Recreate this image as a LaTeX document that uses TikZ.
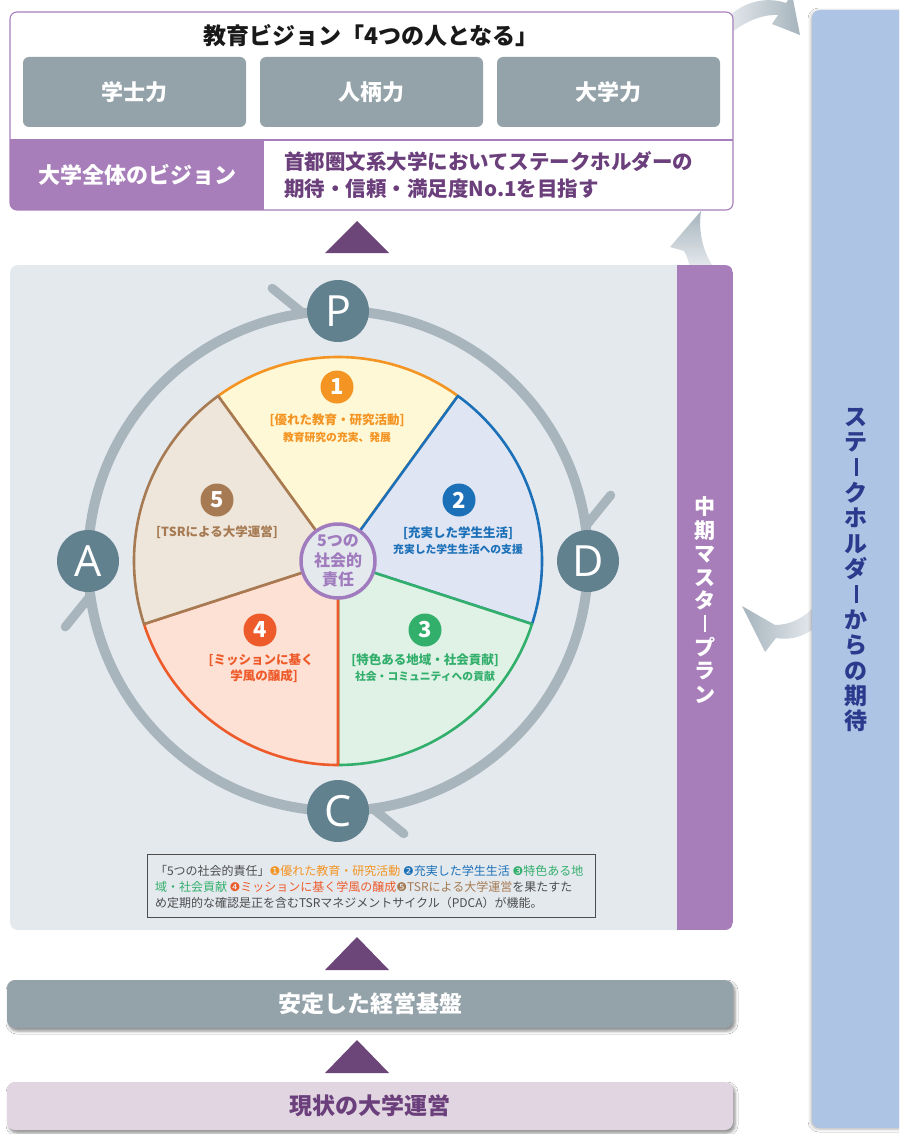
\documentclass[tikz,border=0pt]{standalone}
\usepackage{fontspec}
\usepackage{graphicx}
\setmainfont{Noto Sans CJK JP}
\newfontfamily\latf{Open Sans}
\newfontfamily\dvf{DejaVu Sans}
\usetikzlibrary{shadows.blur}
\newcommand\jfs[2]{\fontsize{#1}{#2}\selectfont}
\newcommand\myvbar{\rule[-0.02em]{0.13em}{0.82em}}
\definecolor{vpurple}{HTML}{A77EB9}
\definecolor{dpurple}{HTML}{6B3F7B}
\definecolor{tri}{HTML}{6C4679}
\definecolor{gbox}{HTML}{94A2A9}
\definecolor{panel}{HTML}{E4E9EE}
\definecolor{sblue}{HTML}{AEC4E4}
\definecolor{stext}{HTML}{2B3A8C}
\definecolor{ringc}{HTML}{A8B5BD}
\definecolor{pdcac}{HTML}{62818F}
\definecolor{c1}{HTML}{F39423}\definecolor{f1}{HTML}{FFF8D6}
\definecolor{c2}{HTML}{1B70B8}\definecolor{f2}{HTML}{DFE5F3}
\definecolor{c3}{HTML}{33AF6C}\definecolor{f3}{HTML}{E0F1E6}
\definecolor{c4}{HTML}{EE5B2B}\definecolor{f4}{HTML}{FDE1D5}
\definecolor{c5}{HTML}{A67B53}\definecolor{f5}{HTML}{EFE6DB}
\definecolor{ccent}{HTML}{A07CBE}
\definecolor{lgray}{HTML}{4D4D4D}
\definecolor{bartwo}{HTML}{E0D5E0}
\definecolor{arlight}{HTML}{E6EAEE}
\definecolor{ardark}{HTML}{A6B4BD}
\begin{document}
\begin{tikzpicture}[x=1pt,y=-1pt,
  every node/.style={inner sep=0pt, outer sep=0pt},
  graybox/.style={rectangle, rounded corners=6, fill=gbox, minimum width=223, minimum height=70, text=white, font=\bfseries\jfs{22}{26}},
  seg/.style={line width=2.6, line join=round},
  badge/.style={circle, minimum size=33, text=white, font=\bfseries\jfs{22}{24}},
  lbl/.style={font=\bfseries\jfs{12.5}{16}},
  sublbl/.style={font=\bfseries\jfs{10.8}{14}},
  pdcanode/.style={circle, fill=pdcac, minimum size=62, text=white, font=\latf\jfs{43}{46}},
  barb/.style={ringc, line width=9, line cap=round},
  barnode/.style={rectangle, rounded corners=8, minimum width=726, minimum height=48, font=\bfseries\jfs{23}{26},
    blur shadow={shadow xshift=2pt, shadow yshift=-3pt, shadow blur radius=3pt, shadow opacity=45}},
  legline/.style={anchor=base west, font=\jfs{12}{14}}
]
\clip (0,0) rectangle (899,1134);
\fill[white] (0,0) rectangle (899,1134);

% gradient swoosh arrows
\shade[left color=arlight, right color=ardark] (725,38) .. controls (740,24) and (760,14) .. (778,15) -- (772,24) -- (800,35) -- (792,-6) -- (786,3) .. controls (765,-4) and (742,2) .. (725,20) -- cycle;
\shade[top color=ardark, bottom color=arlight] (701,211) -- (670,247) -- (684,251) .. controls (687,256) and (689,262) .. (690,268) -- (714,268) .. controls (703,252) and (698,232) .. (701,211) -- cycle;
\shade[left color=ardark, right color=arlight] (742,606) -- (765,652) -- (776,638) .. controls (792,641) and (805,635) .. (815,628) -- (815,606) .. controls (804,618) and (790,625) .. (775,625) -- cycle;

% stakeholder box
\fill[sblue, rounded corners=8, blur shadow={shadow xshift=-1pt, shadow yshift=-1pt, shadow blur radius=3pt, shadow opacity=30}] (812,10) rectangle (940,1128);
\node[font=\bfseries\jfs{23}{25.4}, text=stext, align=center] (stk) at (856,570)
  {ス\\テ\\\myvbar\\ク\\ホ\\ル\\ダ\\\myvbar\\か\\ら\\の\\期\\待};

% top vision box
\fill[white, rounded corners=7] (10,12) rectangle (733,210);
\begin{scope}
  \clip[rounded corners=7] (10,12) rectangle (733,210);
  \fill[vpurple] (10,140) rectangle (264,210);
\end{scope}
\draw[vpurple, line width=1.1] (10,140) -- (733,140);
\draw[vpurple, line width=1.1, rounded corners=7] (10,12) rectangle (733,210);
\node[font=\bfseries\jfs{23}{26}, text=black!90] (title) at (371,36) {教育ビジョン「4つの人となる」};
\node[graybox] (g1) at (134.5,92) {学士力};
\node[graybox] (g2) at (371.5,92) {人柄力};
\node[graybox] (g3) at (608.5,92) {大学力};
\node[font=\bfseries\jfs{22}{26}, text=white] (vl) at (137,175) {大学全体のビジョン};
\node[anchor=west, align=left, text=dpurple, font=\bfseries\jfs{20.5}{27}] (vt) at (284,175)
  {首都圏文系大学においてステークホルダーの\\期待・信頼・満足度No.1を目指す};

\fill[tri] (357,221) -- (389,253) -- (325,253) -- cycle;

% main panel
\fill[panel, rounded corners=8] (10,265) rectangle (733,930);
\begin{scope}
  \clip[rounded corners=8] (10,265) rectangle (733,930);
  \fill[vpurple] (677,265) rectangle (733,930);
\end{scope}
\node[font=\bfseries\jfs{21}{23.4}, text=white, align=center] (mp) at (705,600)
  {中\\期\\マ\\ス\\タ\\\myvbar\\プ\\ラ\\ン};

% PDCA ring
\coordinate (O) at (338,561);
\draw[ringc, line width=10] (O) circle (250);
\draw[barb] ($(O)+(-98:250)$) -- ++(-141:40);
\draw[barb] ($(O)+(-8:250)$) -- ++(-51:40);
\draw[barb] ($(O)+(82:250)$) -- ++(39:40);
\draw[barb] ($(O)+(172:250)$) -- ++(129:40);

% pie segments
\filldraw[seg, fill=f1, draw=c1] (O) -- ++(-126:204) arc[start angle=-126, end angle=-54, radius=204] -- cycle;
\filldraw[seg, fill=f2, draw=c2] (O) -- ++(-54:204) arc[start angle=-54, end angle=18, radius=204] -- cycle;
\filldraw[seg, fill=f3, draw=c3] (O) -- ++(18:204) arc[start angle=18, end angle=90, radius=204] -- cycle;
\filldraw[seg, fill=f4, draw=c4] (O) -- ++(90:204) arc[start angle=90, end angle=162, radius=204] -- cycle;
\filldraw[seg, fill=f5, draw=c5] (O) -- ++(162:204) arc[start angle=162, end angle=234, radius=204] -- cycle;

\node[circle, fill=panel, draw=ccent, line width=3.5, minimum size=74, text=ccent, align=center, font=\bfseries\jfs{16}{19.5}] (ctr) at (O) {5つの\\社会的\\責任};

% badges and labels
\node[badge, fill=c1] (b1) at (337,387) {1};
\node[lbl, text=c1] (l1a) at (337,420) {[優れた教育・研究活動]};
\node[sublbl, text=c1] (l1b) at (337,437) {教育研究の充実、発展};
\node[badge, fill=c2] (b2) at (459,500) {2};
\node[lbl, text=c2] (l2a) at (458,533) {[充実した学生生活]};
\node[sublbl, text=c2] (l2b) at (458,549) {充実した学生生活への支援};
\node[badge, fill=c3] (b3) at (425,630) {3};
\node[lbl, text=c3] (l3a) at (425,660) {[特色ある地域・社会貢献]};
\node[sublbl, text=c3] (l3b) at (425,676) {社会・コミュニティへの貢献};
\node[badge, fill=c4] (b4) at (260,630) {4};
\node[lbl, text=c4] (l4a) at (261,660) {[ミッションに基く};
\node[lbl, text=c4] (l4b) at (264,676) {学風の醸成]};
\node[badge, fill=c5] (b5) at (217,500) {5};
\node[lbl, text=c5] (l5a) at (217,532) {[TSRによる大学運営]};

% PDCA nodes
\node[pdcanode] (P) at (338,311) {P};
\node[pdcanode] (D) at (588,561) {D};
\node[pdcanode] (C) at (338,811) {C};
\node[pdcanode] (A) at (88,561) {A};

% legend
\node[draw=lgray, line width=1, minimum width=448, minimum height=63, anchor=north west] (lg) at (147,854) {};
\node[legline] (lg1) at (155,875) {{\color{lgray}「5つの社会的責任」}{\color{c1}{\dvf ❶}優れた教育・研究活動} {\color{c2}{\dvf ❷}充実した学生生活} {\color{c3}{\dvf ❸}特色ある地}};
\node[legline] (lg2) at (155,891) {{\color{c3}域・社会貢献} {\color{c4}{\dvf ❹}ミッションに基く学風の醸成}{\color{c5}{\dvf ❺}TSRによる大学運営}{\color{lgray}を果たすた}};
\node[legline, text=lgray] (lg3) at (155,907) {め定期的な確認是正を含むTSRマネジメントサイクル（PDCA）が機能。};

% bottom
\fill[tri] (357,937) -- (389,970) -- (325,970) -- cycle;
\node[barnode, fill=gbox, text=white] (base) at (370,1004) {安定した経営基盤};
\fill[tri] (357,1040) -- (389,1073) -- (325,1073) -- cycle;
\node[barnode, fill=bartwo, text=dpurple] (cur) at (370,1106) {現状の大学運営};
\end{tikzpicture}
\end{document}
